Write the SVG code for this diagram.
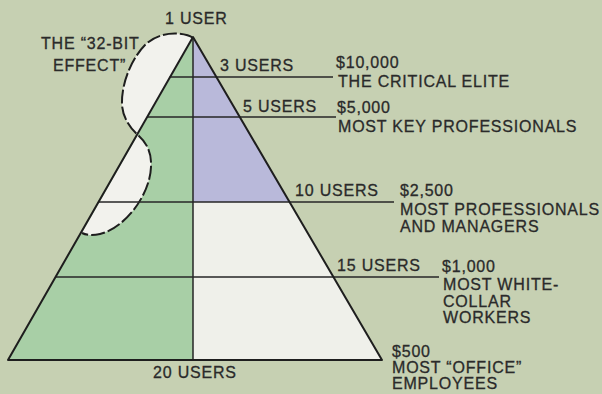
<svg xmlns="http://www.w3.org/2000/svg" width="602" height="394" viewBox="0 0 602 394">
  <style>
    text { font-family: "Liberation Sans", Arial, Helvetica, sans-serif; font-size: 16px; fill: #2a2a2a; stroke: #2a2a2a; stroke-width: 0.3px; letter-spacing: 0.8px; }
    .edge { stroke: #1e1e1e; stroke-width: 2; fill: none; stroke-linejoin: round; }
    .rule { stroke: #262626; stroke-width: 1.5; fill: none; }
    .dash { stroke: #1e1e1e; stroke-width: 2; fill: none; stroke-dasharray: 14 3; }
  </style>
  <rect x="0" y="0" width="602" height="394" fill="#c6d0b2"/>

  <g id="pyramid">
    <polygon points="193,37 8,360 193,360" fill="#a8cfa6"/>
    <polygon points="193,37 289.5,202 193,202" fill="#b9b9da"/>
    <polygon points="193,202 289.5,202 382,360 193,360" fill="#eff0ea"/>
  </g>

  <g id="effect-32bit">
    <path d="M193,38 C185,32 160,30 145,45 C133,57 121,82 122,105 C123,118 130,128 138,135 C146,142 152,152 151,167 C150,195 125,228 100,234 C92,236 86,235 82,233 L193,38 Z" fill="#f2f2ed" stroke="none"/>
    <path class="dash" d="M193,38 C185,32 160,30 145,45 C133,57 121,82 122,105 C123,118 130,128 138,135 C146,142 152,152 151,167 C150,195 125,228 100,234 C92,236 86,235 82,233"/>
    <text x="41" y="49">THE “32-BIT</text>
    <text x="53" y="71">EFFECT”</text>
  </g>

  <g id="connectors">
    <line class="rule" x1="169.6" y1="77" x2="333" y2="77"/>
    <line class="rule" x1="147" y1="117" x2="336" y2="117"/>
    <line class="rule" x1="98.5" y1="202" x2="394" y2="202"/>
    <line class="rule" x1="55.5" y1="277" x2="439" y2="277"/>
    <line class="rule" x1="193" y1="37" x2="193" y2="360"/>
  </g>

  <g id="outline">
    <polygon class="edge" points="193,37 8,360 382,360"/>
  </g>

  <g id="tier-1">
    <text x="165" y="24">1 USER</text>
  </g>
  <g id="tier-3">
    <text x="220" y="71">3 USERS</text>
    <text x="336" y="68">$10,000</text>
    <text x="338" y="87">THE CRITICAL ELITE</text>
  </g>
  <g id="tier-5">
    <text x="243" y="112">5 USERS</text>
    <text x="337" y="113">$5,000</text>
    <text x="338" y="132">MOST KEY PROFESSIONALS</text>
  </g>
  <g id="tier-10">
    <text x="295" y="196">10 USERS</text>
    <text x="400" y="196">$2,500</text>
    <text x="400" y="215">MOST PROFESSIONALS</text>
    <text x="400" y="232">AND MANAGERS</text>
  </g>
  <g id="tier-15">
    <text x="337" y="271">15 USERS</text>
    <text x="442" y="272">$1,000</text>
    <text x="443" y="290">MOST WHITE-</text>
    <text x="443" y="307">COLLAR</text>
    <text x="443" y="323">WORKERS</text>
  </g>
  <g id="tier-20">
    <text x="153" y="378">20 USERS</text>
    <text x="392" y="357">$500</text>
    <text x="392" y="373">MOST “OFFICE”</text>
    <text x="392" y="389">EMPLOYEES</text>
  </g>
</svg>
